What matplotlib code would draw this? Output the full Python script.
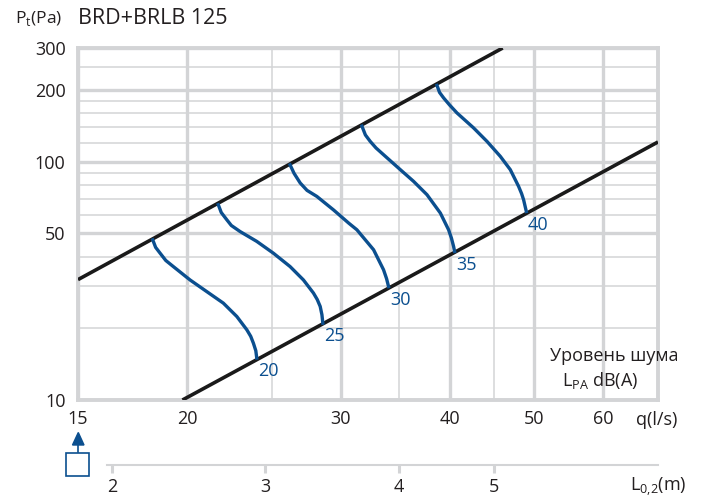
import numpy as np
import matplotlib.pyplot as plt
from matplotlib.patches import Rectangle, Polygon
from matplotlib.ticker import NullFormatter

plt.rcParams['font.family'] = ['Open Sans', 'DejaVu Sans']

# limit lines of the working range (P = k * q^2 in log-log)
upper_q = [15, 46.0]
upper_p = [32, 300]
lower_q = [19.76, 69.3]
lower_p = [10, 121]

# noise level curves, L_PA dB(A)
levels = ['20', '25', '30', '35', '40']
q20 = [18.27, 18.41, 18.63, 18.91, 19.29, 20.16, 21.07, 22.01, 22.81, 23.42, 23.66, 23.83, 23.98, 24.04]
p20 = [47.0, 43.7, 41.3, 38.5, 36.3, 31.9, 28.5, 25.5, 22.4, 19.7, 18.5, 17.3, 16.1, 15.0]
q25 = [21.72, 21.89, 22.21, 22.48, 23.01, 24.04, 25.12, 26.25, 27.19, 27.92, 28.20, 28.42, 28.55, 28.62]
p25 = [66.0, 61.2, 57.1, 54.0, 50.9, 46.3, 41.3, 36.3, 31.9, 28.1, 26.4, 24.7, 22.8, 21.0]
q30 = [26.25, 26.53, 26.96, 27.45, 28.17, 29.43, 30.63, 31.31, 32.72, 33.59, 33.86, 34.04]
p30 = [97.0, 89.3, 81.4, 75.8, 71.5, 62.8, 55.3, 51.8, 42.7, 35.2, 32.3, 29.9]
q35 = [31.73, 32.02, 32.43, 32.93, 33.59, 35.11, 36.36, 37.67, 39.02, 39.88, 40.18, 40.41, 40.52]
p35 = [141.0, 129.5, 121.7, 114.2, 107.0, 92.6, 82.7, 72.7, 60.9, 51.8, 47.8, 44.1, 42.0]
q40 = [38.68, 38.94, 39.36, 39.98, 40.77, 42.60, 44.13, 45.71, 46.93, 47.97, 48.35, 48.61, 48.96]
p40 = [209.0, 195.3, 185.2, 173.1, 160.2, 138.6, 121.7, 105.3, 92.6, 78.8, 73.5, 69.2, 61.8]
curves_q = [q20, q25, q30, q35, q40]
curves_p = [p20, p25, p30, p35, p40]

# axis ticks
x_major = [15, 20, 30, 40, 50, 60]
x_minor = [25, 35, 45]
y_major = [10, 50, 100, 200, 300]
y_minor = [20, 30, 40, 60, 70, 80, 90, 120, 140, 160, 180, 250]

# throw length L0,2 against flow
l02_labels = ['2', '3', '4', '5']
l02_q = [16.4, 24.6, 35.0, 45.0]

W, H = 702, 503
grid_col = '#d3d4d6'
blue = '#0b4f8f'
txt = '#231f20'

fig = plt.figure(figsize=(W / 100, H / 100), dpi=100)
ax = fig.add_axes([78 / W, 1 - 400 / H, 580 / W, 352 / H])
ax.set_xscale('log')
ax.set_yscale('log')
ax.set_xlim(15, 69.3)
ax.set_ylim(10, 300)

ax.set_xticks(x_major)
ax.set_xticklabels([str(v) for v in x_major])
ax.set_xticks(x_minor, minor=True)
ax.set_yticks(y_major)
ax.set_yticklabels([str(v) for v in y_major])
ax.set_yticks(y_minor, minor=True)
ax.xaxis.set_minor_formatter(NullFormatter())
ax.yaxis.set_minor_formatter(NullFormatter())
ax.tick_params(which='both', length=0, labelsize=13, colors=txt)
ax.tick_params(axis='x', pad=7)
ax.tick_params(axis='y', pad=9)

ax.grid(which='major', color=grid_col, lw=2.4)
ax.grid(which='minor', color=grid_col, lw=1.1)
ax.set_axisbelow(True)
for s in ax.spines.values():
    s.set_color(grid_col)
    s.set_linewidth(2.8)

ax.plot(upper_q, upper_p, color='#1a1a1a', lw=2.6, solid_capstyle='butt', zorder=3)
ax.plot(lower_q, lower_p, color='#1a1a1a', lw=2.6, solid_capstyle='butt', zorder=3)

for lab, qs, ps in zip(levels, curves_q, curves_p):
    ax.plot(qs, ps, color=blue, lw=2.4, solid_joinstyle='round', zorder=4)
    ax.annotate(lab, (qs[-1], ps[-1]), xytext=(1, -3), textcoords='offset points',
                ha='left', va='top', color=blue, fontsize=13)

ax.text(0.925, 0.125, 'Уровень шума', transform=ax.transAxes, ha='center', va='center',
        fontsize=13, color=txt)
ax.text(0.90, 0.054, r'L$_\mathregular{PA}$ dB(A)', transform=ax.transAxes, ha='center',
        va='center', fontsize=13, color=txt)

fig.text(15 / W, 1 - 19 / H, r'P$_\mathregular{t}$(Pa)', ha='left', va='center', fontsize=12.5, color=txt)
fig.text(78 / W, 1 - 18 / H, 'BRD+BRLB 125', ha='left', va='center', fontsize=15.5, color=txt)
fig.text(657 / W, 1 - 420 / H, 'q(l/s)', ha='center', va='center', fontsize=13, color=txt)
fig.text(658 / W, 1 - 487 / H, r'L$_\mathregular{0{,}2}$(m)', ha='center', va='center', fontsize=13, color=txt)

# secondary scale for throw length
ax2 = fig.add_axes([78 / W, 1 - 465 / H, 580 / W, 0.001])
ax2.set_xscale('log')
ax2.set_xlim(ax.get_xlim())
ax2.set_yticks([])
for k in ['top', 'left', 'right']:
    ax2.spines[k].set_visible(False)
ax2.spines['bottom'].set_color(grid_col)
ax2.spines['bottom'].set_linewidth(1.5)
ax2.spines['bottom'].set_bounds(16.2, 69.3)
ax2.patch.set_visible(False)
ax2.set_xticks(l02_q)
ax2.set_xticklabels(l02_labels)
ax2.xaxis.set_minor_formatter(NullFormatter())
ax2.tick_params(axis='x', which='minor', length=0)
ax2.tick_params(axis='x', which='major', direction='out', length=6, width=2.2,
                color=grid_col, labelsize=13, labelcolor=txt, pad=3)

# flow direction symbol under the axis
fig.add_artist(Rectangle((66 / W, 1 - 476 / H), 23 / W, 23 / H, fill=False,
                         edgecolor=blue, lw=1.2, transform=fig.transFigure))
fig.add_artist(Polygon([(72.5 / W, 1 - 445 / H), (84 / W, 1 - 445 / H), (78.3 / W, 1 - 432.5 / H)],
                       closed=True, color=blue, transform=fig.transFigure))
fig.add_artist(plt.Line2D([78.3 / W, 78.3 / W], [1 - 445 / H, 1 - 452 / H], color=blue, lw=1.2,
                          transform=fig.transFigure))

fig.savefig('out.png', dpi=100)
